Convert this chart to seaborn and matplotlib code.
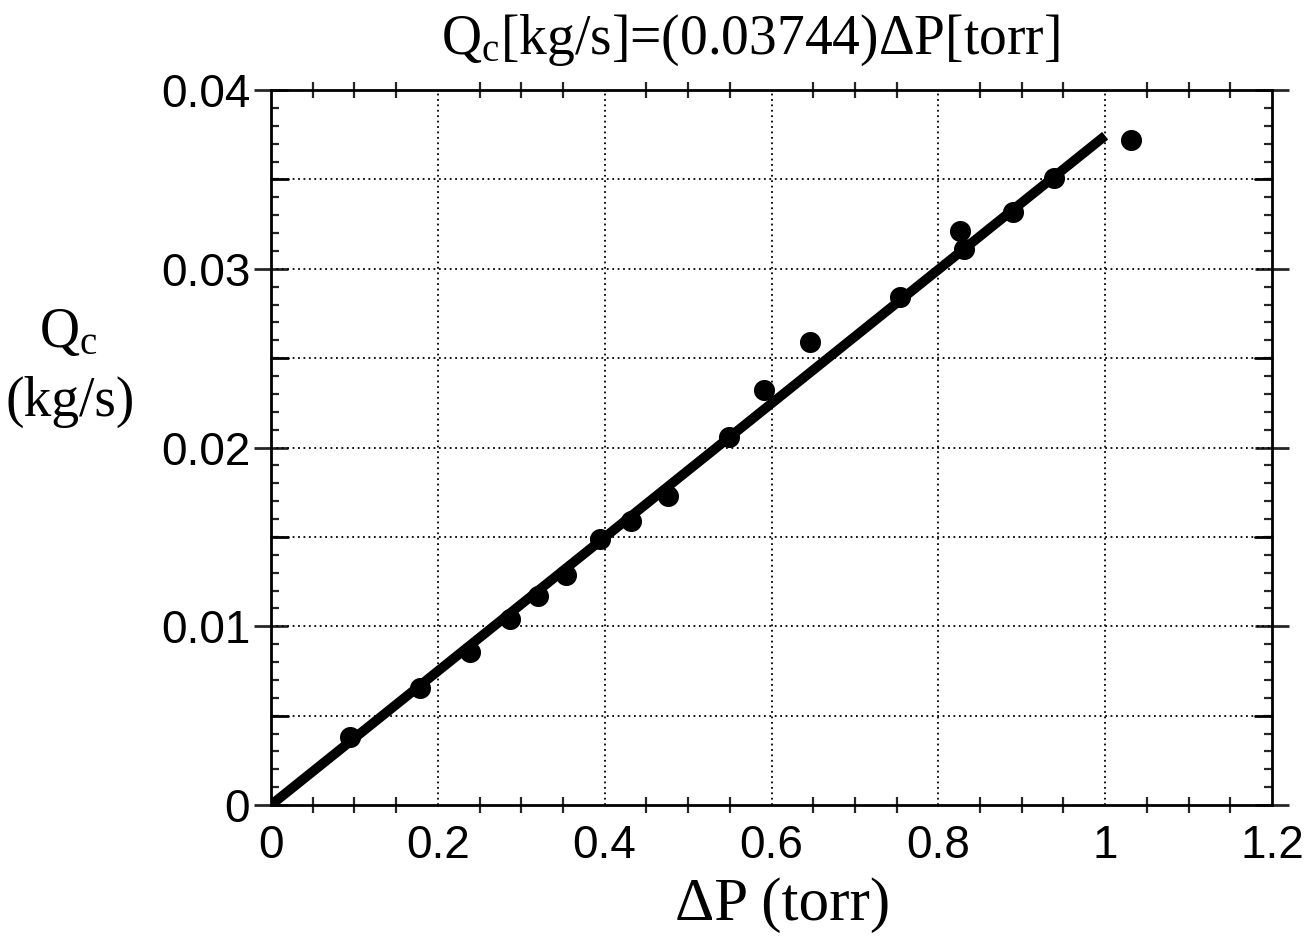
import matplotlib
matplotlib.use("Agg")
import matplotlib.pyplot as plt
import seaborn as sns
import pandas as pd
from matplotlib.ticker import MultipleLocator

# Data
dp_torr = [0.095, 0.179, 0.239, 0.287, 0.320, 0.354, 0.394, 0.432, 0.476,
           0.549, 0.591, 0.646, 0.754, 0.826, 0.831, 0.889, 0.939, 1.031]
qc_kgs = [0.0038, 0.00654, 0.00855, 0.0104, 0.0117, 0.01285, 0.0149, 0.0159,
          0.0173, 0.0206, 0.0232, 0.0259, 0.0284, 0.0321, 0.0311, 0.0332,
          0.0351, 0.0372]
fit_x = [0.0, 1.0]
fit_y = [0.0, 0.03744]
x_ticks = [0, 0.2, 0.4, 0.6, 0.8, 1.0, 1.2]
x_ticklabels = ["0", "0.2", "0.4", "0.6", "0.8", "1", "1.2"]
y_ticks = [0, 0.01, 0.02, 0.03, 0.04]
y_ticklabels = ["0", "0.01", "0.02", "0.03", "0.04"]
y_half_ticks = [0.005, 0.015, 0.025, 0.035]

sns.set_style("white")
plt.rcParams["font.family"] = ["Liberation Sans", "DejaVu Sans"]
plt.rcParams["text.color"] = "black"
plt.rcParams["mathtext.fontset"] = "custom"
plt.rcParams["mathtext.rm"] = "Liberation Serif"
plt.rcParams["mathtext.it"] = "Liberation Serif"

pts = pd.DataFrame({"dp": dp_torr, "qc": qc_kgs})
fit = pd.DataFrame({"dp": fit_x, "qc": fit_y})

fig = plt.figure(figsize=(13.15, 9.36), dpi=100)
ax = fig.add_axes([271/1315, 1-805/936, (1272-271)/1315, (805-90)/936])

sns.lineplot(data=fit, x="dp", y="qc", ax=ax, color="black", linewidth=7,
             solid_capstyle="butt", zorder=3)
sns.scatterplot(data=pts, x="dp", y="qc", ax=ax, color="black", s=230,
                edgecolor="black", linewidth=0, zorder=4)

ax.set_xlim(0, 1.2)
ax.set_ylim(0, 0.04)
ax.set_xticks(x_ticks)
ax.set_xticklabels(x_ticklabels)
ax.set_yticks(y_ticks)
ax.set_yticklabels(y_ticklabels)
ax.xaxis.set_minor_locator(MultipleLocator(0.05))
ax.yaxis.set_minor_locator(MultipleLocator(0.001))

# dotted grid at 0.2 (x) and 0.005 (y)
for gx in x_ticks[1:-1]:
    ax.axvline(gx, color="black", linestyle=(0, (1, 2)), linewidth=1.3, zorder=1)
for gy in sorted(y_ticks[1:-1] + y_half_ticks):
    ax.axhline(gy, color="black", linestyle=(0, (1, 2)), linewidth=1.3, zorder=1)

for s in ax.spines.values():
    s.set_linewidth(2)
    s.set_color("black")

ax.tick_params(axis="x", which="major", length=0, pad=14, labelsize=33,
               top=True, bottom=True, labelcolor="black")
ax.tick_params(axis="x", which="minor", direction="inout", length=12, width=1.6,
               top=True, bottom=True)
ax.tick_params(axis="y", which="major", direction="inout", length=24, width=2,
               pad=3, labelsize=33, left=True, right=True, labelcolor="black")
ax.tick_params(axis="y", which="minor", direction="in", length=6, width=1.6,
               left=True, right=True)
for gy in y_half_ticks:
    ax.plot([0, 0.02], [gy, gy], color="black", linewidth=2, zorder=2, clip_on=False)
    ax.plot([1.18, 1.2], [gy, gy], color="black", linewidth=2, zorder=2, clip_on=False)

ax.set_xlabel("")
ax.set_ylabel("")

serif = ["Liberation Serif", "DejaVu Serif"]
fig.text(750/1315, 1-40/936, r"Q$_\mathrm{c}$[kg/s]=(0.03744)ΔP[torr]",
         ha="center", va="center", fontsize=40, family=serif, color="black")
fig.text(783/1315, 1-905/936, "ΔP (torr)", ha="center", va="center",
         fontsize=44, family=serif, color="black")
fig.text(68/1315, 1-333/936, r"Q$_\mathrm{c}$", ha="center", va="center",
         fontsize=40, family=serif, color="black")
fig.text(70/1315, 1-402/936, "(kg/s)", ha="center", va="center",
         fontsize=40, family=serif, color="black")

fig.savefig("out.png", dpi=100, facecolor="white")
